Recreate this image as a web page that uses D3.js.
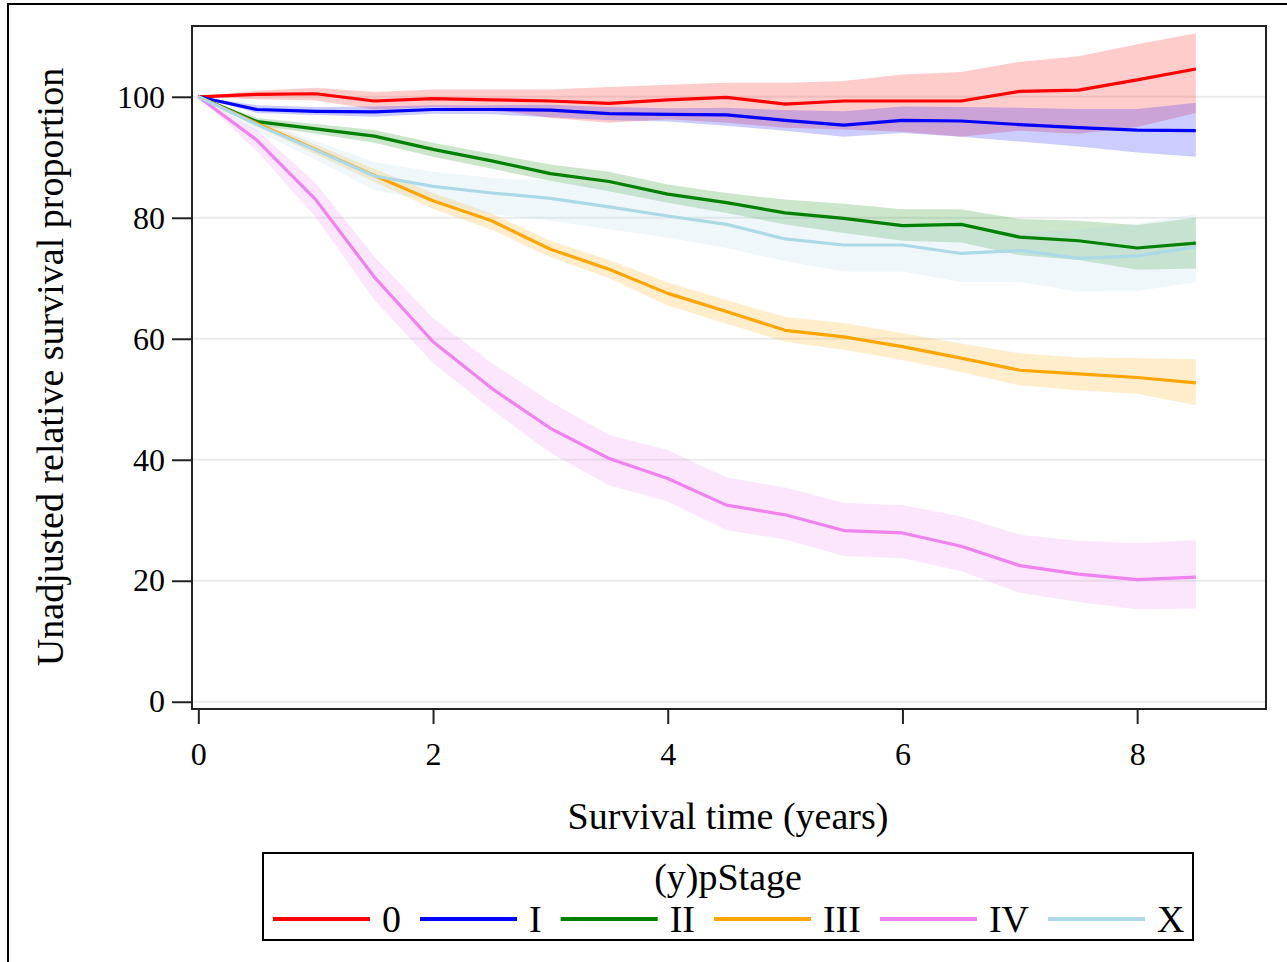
<!DOCTYPE html>
<html>
<head>
<meta charset="utf-8">
<script src="https://cdn.jsdelivr.net/npm/d3@7"></script>
<style>
  body { margin: 0; background: #fff; }
  text { font-family: "Liberation Serif", "Times New Roman", serif; fill: #000; }
</style>
</head>
<body>
<div id="chart"></div>
<script>
// survival time (years)
const times = [0, 0.5, 1, 1.5, 2, 2.5, 3, 3.5, 4, 4.5, 5, 5.5, 6, 6.5, 7, 7.5, 8, 8.5];

const stages = ["0", "I", "II", "III", "IV", "X"];
const colors = ["red", "blue", "green", "orange", "violet", "lightblue"];

const est0 = [100, 100.4, 100.5, 99.3, 99.7, 99.5, 99.3, 98.9, 99.5, 99.9, 98.8, 99.3, 99.3, 99.3, 100.9, 101.1, 102.8, 104.6];
const hi0  = [100, 101.0, 101.5, 100.8, 101.2, 101.2, 101.2, 101.6, 102.0, 102.3, 102.3, 102.6, 103.7, 104.1, 105.8, 106.7, 108.7, 110.5];
const lo0  = [100, 99.6, 99.4, 97.9, 98.3, 97.9, 96.5, 95.7, 96.3, 95.7, 94.9, 94.6, 94.2, 93.4, 94.4, 93.9, 95.0, 97.3];

const est1 = [100, 97.9, 97.6, 97.5, 97.9, 97.9, 97.8, 97.2, 97.1, 97.0, 96.1, 95.3, 96.1, 96.0, 95.4, 94.9, 94.5, 94.4];
const hi1  = [100, 98.6, 98.3, 98.4, 98.6, 98.6, 98.7, 98.3, 98.1, 98.2, 97.8, 97.6, 98.4, 98.3, 98.2, 98.0, 98.0, 99.0];
const lo1  = [100, 97.3, 97.0, 96.7, 97.2, 97.1, 96.6, 96.1, 95.9, 95.2, 94.4, 93.4, 94.0, 93.4, 92.6, 91.8, 90.8, 90.1];

const est2 = [100, 95.9, 94.7, 93.5, 91.3, 89.4, 87.3, 86.0, 83.9, 82.5, 80.8, 79.9, 78.7, 78.9, 76.8, 76.2, 75.0, 75.8];
const hi2  = [100, 96.5, 95.5, 94.5, 92.4, 90.6, 88.8, 87.6, 85.5, 84.1, 83.0, 82.3, 81.4, 81.4, 79.8, 79.5, 78.8, 80.0];
const lo2  = [100, 95.3, 93.9, 92.4, 90.1, 88.1, 86.1, 84.4, 82.5, 80.8, 78.9, 77.5, 76.2, 75.9, 73.8, 73.0, 71.4, 71.6];

const est3 = [100, 95.6, 91.3, 87.0, 82.8, 79.5, 74.8, 71.5, 67.5, 64.5, 61.4, 60.3, 58.7, 56.8, 54.8, 54.2, 53.6, 52.7];
const hi3  = [100, 96.1, 92.1, 88.1, 84.1, 80.7, 76.2, 73.0, 69.3, 66.4, 63.6, 62.6, 60.9, 59.2, 57.6, 56.9, 56.8, 56.6];
const lo3  = [100, 95.1, 90.5, 85.9, 81.5, 78.0, 73.5, 70.0, 65.5, 62.5, 59.5, 58.2, 56.5, 54.5, 52.3, 51.5, 50.9, 49.0];

const est4 = [100, 92.8, 83.0, 70.2, 59.5, 51.8, 45.2, 40.2, 36.9, 32.5, 30.9, 28.3, 27.9, 25.7, 22.5, 21.1, 20.2, 20.6];
const hi4  = [100, 94.5, 85.7, 73.6, 63.4, 56.0, 49.6, 44.1, 41.6, 37.1, 35.4, 32.9, 32.5, 30.6, 27.6, 26.6, 26.2, 26.7];
const lo4  = [100, 91.0, 80.1, 66.4, 56.0, 48.3, 41.1, 35.8, 33.1, 28.4, 26.8, 24.1, 23.7, 21.6, 18.0, 16.5, 15.3, 15.4];

const est5 = [100, 95.4, 91.2, 86.9, 85.2, 84.1, 83.2, 81.8, 80.3, 78.9, 76.5, 75.5, 75.5, 74.1, 74.6, 73.3, 73.7, 75.2];
const hi5  = [100, 96.5, 92.7, 89.2, 87.6, 86.6, 86.1, 85.2, 84.1, 82.5, 80.8, 79.8, 79.0, 78.0, 77.5, 78.0, 79.0, 80.6];
const lo5  = [100, 94.3, 89.6, 84.6, 82.7, 80.6, 79.5, 78.1, 76.7, 75.0, 72.8, 71.1, 71.1, 69.4, 69.4, 67.8, 67.9, 69.4];

const xTicks = [0, 2, 4, 6, 8];
const yTicks = [0, 20, 40, 60, 80, 100];

const series = [
  { est: est0, hi: hi0, lo: lo0 },
  { est: est1, hi: hi1, lo: lo1 },
  { est: est2, hi: hi2, lo: lo2 },
  { est: est3, hi: hi3, lo: lo3 },
  { est: est4, hi: hi4, lo: lo4 },
  { est: est5, hi: hi5, lo: lo5 }
].map((s, i) => ({
  stage: stages[i],
  color: colors[i],
  values: times.map((t, j) => ({ t: t, est: s.est[j], hi: s.hi[j], lo: s.lo[j] }))
}));

const width = 1287, height = 962;
const plot = { left: 192, right: 1266, top: 26, bottom: 709 };

const svg = d3.select("#chart").append("svg")
  .attr("width", width)
  .attr("height", height);

// outer frame
svg.append("rect")
  .attr("x", 8).attr("y", 4)
  .attr("width", 1400).attr("height", 1100)
  .attr("fill", "#fff")
  .attr("stroke", "#000")
  .attr("stroke-width", 2);

const x = d3.scaleLinear()
  .domain([-0.054, 9.098])
  .range([plot.left, plot.right]);

const y = d3.scaleLinear()
  .domain([-1.2, 111.7])
  .range([plot.bottom, plot.top]);

// grid
svg.append("g")
  .selectAll("line")
  .data(yTicks)
  .join("line")
  .attr("x1", plot.left).attr("x2", plot.right)
  .attr("y1", d => y(d)).attr("y2", d => y(d))
  .attr("stroke", "#ebebeb")
  .attr("stroke-width", 2);

const area = d3.area()
  .x(d => x(d.t))
  .y0(d => y(d.lo))
  .y1(d => y(d.hi));

const line = d3.line()
  .x(d => x(d.t))
  .y(d => y(d.est));

svg.append("g")
  .selectAll("path")
  .data(series)
  .join("path")
  .attr("d", d => area(d.values))
  .attr("fill", d => d.color)
  .attr("fill-opacity", 0.2);

svg.append("g")
  .selectAll("path")
  .data(series)
  .join("path")
  .attr("d", d => line(d.values))
  .attr("fill", "none")
  .attr("stroke", d => d.color)
  .attr("stroke-width", 3.2)
  .attr("stroke-linejoin", "round");

// frame
svg.append("rect")
  .attr("x", plot.left).attr("y", plot.top)
  .attr("width", plot.right - plot.left)
  .attr("height", plot.bottom - plot.top)
  .attr("fill", "none")
  .attr("stroke", "#222")
  .attr("stroke-width", 2);

// axes
const yAxis = svg.append("g")
  .attr("transform", `translate(${plot.left}, 0)`)
  .call(d3.axisLeft(y).tickValues(yTicks).tickSize(20).tickPadding(7));

const xAxis = svg.append("g")
  .attr("transform", `translate(0, ${plot.bottom})`)
  .call(d3.axisBottom(x).tickValues(xTicks).tickSize(15).tickPadding(18));

[yAxis, xAxis].forEach(g => {
  g.select(".domain").remove();
  g.selectAll(".tick line").attr("stroke", "#222").attr("stroke-width", 2);
  g.selectAll(".tick text")
    .attr("font-family", "Liberation Serif, Times New Roman, serif")
    .attr("font-size", 32)
    .attr("fill", "#000");
});

// axis titles
svg.append("text")
  .attr("x", 728).attr("y", 829)
  .attr("text-anchor", "middle")
  .attr("font-size", 38)
  .text("Survival time (years)");

svg.append("text")
  .attr("transform", "translate(63, 367) rotate(-90)")
  .attr("text-anchor", "middle")
  .attr("font-size", 38)
  .text("Unadjusted relative survival proportion");

// legend
const legend = svg.append("g");
legend.append("rect")
  .attr("x", 263).attr("y", 853)
  .attr("width", 930).attr("height", 87)
  .attr("fill", "#fff")
  .attr("stroke", "#000")
  .attr("stroke-width", 2);

legend.append("text")
  .attr("x", 728).attr("y", 890)
  .attr("text-anchor", "middle")
  .attr("font-size", 38)
  .text("(y)pStage");

let lx = 273;
series.forEach(s => {
  legend.append("line")
    .attr("x1", lx).attr("x2", lx + 97)
    .attr("y1", 919).attr("y2", 919)
    .attr("stroke", s.color)
    .attr("stroke-width", 4);
  const t = legend.append("text")
    .attr("x", lx + 109).attr("y", 932)
    .attr("font-size", 38)
    .text(s.stage);
  lx += 109 + t.node().getComputedTextLength() + 19;
});
</script>
</body>
</html>
